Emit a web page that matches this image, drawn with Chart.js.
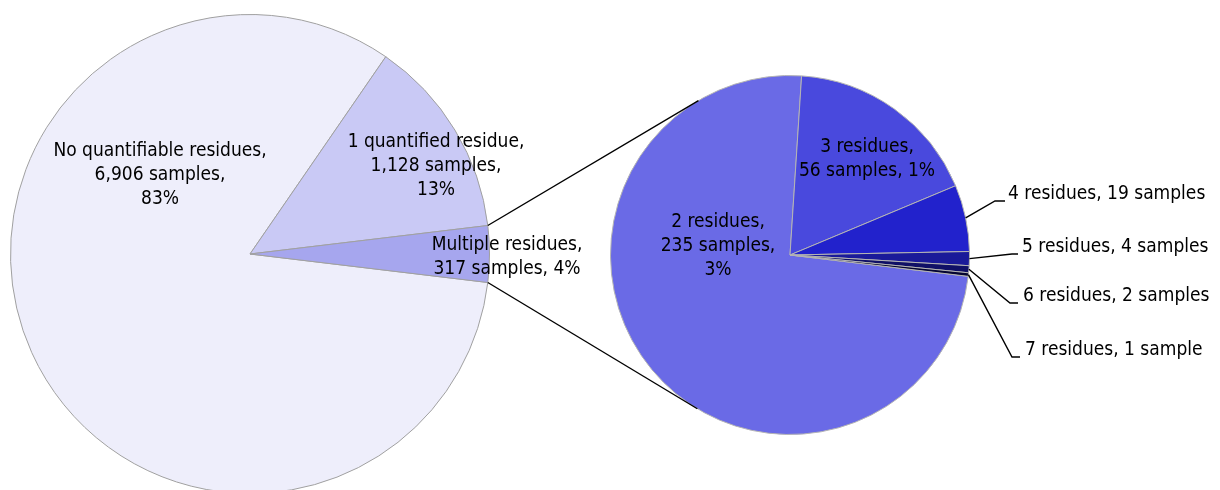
<!DOCTYPE html>
<html><head><meta charset="utf-8">
<script src="https://cdn.jsdelivr.net/npm/chart.js@4"></script>
<style>
html,body{margin:0;padding:0;background:#fff;overflow:hidden;width:1220px;height:490px;}
#wrap{position:relative;width:1220px;height:490px;overflow:hidden;}
canvas{position:absolute;left:0;top:0;}
</style></head><body>
<div id="wrap">
<canvas id="main" width="1220" height="510"></canvas>
<canvas id="sub" width="1220" height="490"></canvas>
</div>
<script>
// ---- data ----
const mainCategories = ["No quantifiable residues", "1 quantified residue", "Multiple residues"];
const mainValues = [6906, 1128, 317];
const mainPctLabels = ["83%", "13%", "4%"];
const mainColors = ["#EEEEFB", "#C9C9F5", "#A6A6EE"];

const subCategories = ["2 residues", "3 residues", "4 residues", "5 residues", "6 residues", "7 residues"];
const subValues = [235, 56, 19, 4, 2, 1];
const subPctLabels = ["3%", "1%", "", "", "", ""];
const subColors = ["#6A6AE6", "#4949DD", "#2222CC", "#1A1A99", "#101066", "#050533"];

const FONT_FAMILY = '"DejaVu Sans Condensed", "DejaVu Sans", sans-serif';
const FONT_SIZE = 19;
const LINE_H = 24;

function fmt(n){ return n.toLocaleString('en-US'); }
function sampleWord(n){ return n === 1 ? 'sample' : 'samples'; }

// label texts built from data
const mainLabelLines = [
  [mainCategories[0] + ',', fmt(mainValues[0]) + ' samples,', mainPctLabels[0]],
  [mainCategories[1] + ',', fmt(mainValues[1]) + ' samples,', mainPctLabels[1]],
  [mainCategories[2] + ',', fmt(mainValues[2]) + ' samples, ' + mainPctLabels[2]]
];
const subLabelLines = subCategories.map((c, i) => {
  if (i === 0) return [c + ',', fmt(subValues[i]) + ' samples,', subPctLabels[i]];
  if (i === 1) return [c + ',', fmt(subValues[i]) + ' samples, ' + subPctLabels[i]];
  return [c + ', ' + fmt(subValues[i]) + ' ' + sampleWord(subValues[i])];
});

const mainTotal = mainValues.reduce((a, b) => a + b, 0);
const rot = 90 + (mainValues[2] / mainTotal * 360) / 2;

// label layout (offsets relative to pie centre)
const mainLabelPos = [ {dx:-90, dy:-79}, {dx:186, dy:-88}, {dx:257, dy:3} ];
const subLabelPos = [
  {dx:-72, dy:-9, inside:true},
  {dx:77, dy:-96, inside:true},
  {ex:205, ey:-54, hx:215, tx:218},
  {ex:222, ey:-1, hx:228, tx:232},
  {ex:220, ey:48, hx:228, tx:233},
  {ex:222, ey:102, hx:230, tx:235}
];

const labelPlugin = {
  id: 'sliceLabels',
  afterDatasetsDraw(chart, args, opts) {
    const ctx = chart.ctx;
    const meta = chart.getDatasetMeta(0);
    const cx = meta.data[0].x, cy = meta.data[0].y;
    ctx.save();
    ctx.font = FONT_SIZE + 'px ' + FONT_FAMILY;
    ctx.fillStyle = '#000';
    ctx.textBaseline = 'middle';
    opts.lines.forEach((lines, i) => {
      const p = opts.pos[i];
      if (p.ex === undefined) {
        ctx.textAlign = 'center';
        const y0 = cy + p.dy - (lines.length - 1) * LINE_H / 2;
        lines.forEach((t, k) => ctx.fillText(t, cx + p.dx, y0 + k * LINE_H));
      } else {
        const arc = meta.data[i];
        const mid = (arc.startAngle + arc.endAngle) / 2;
        const sx = cx + arc.outerRadius * Math.cos(mid);
        const sy = cy + arc.outerRadius * Math.sin(mid);
        ctx.strokeStyle = '#000';
        ctx.lineWidth = 1.4;
        ctx.beginPath();
        ctx.moveTo(sx, sy);
        ctx.lineTo(cx + p.ex, cy + p.ey);
        ctx.lineTo(cx + p.hx, cy + p.ey);
        ctx.stroke();
        ctx.textAlign = 'left';
        ctx.fillText(lines[0], cx + p.tx, cy + p.ey - 7);
      }
    });
    ctx.restore();
  }
};

const mainChart = new Chart(document.getElementById('main'), {
  type: 'pie',
  data: { labels: mainCategories, datasets: [{ data: mainValues, backgroundColor: mainColors, borderColor: '#A0A0A0', borderWidth: 1 }] },
  options: {
    responsive: false, animation: false, rotation: rot,
    layout: { padding: { left: 10, top: 14, right: 730, bottom: 16 } },
    plugins: { legend: { display: false }, tooltip: { enabled: false },
      sliceLabels: { lines: mainLabelLines, pos: mainLabelPos } }
  },
  plugins: [labelPlugin]
});

const connectorPlugin = {
  id: 'connectors',
  afterDatasetsDraw(chart) {
    const ctx = chart.ctx;
    const subArc = chart.getDatasetMeta(0).data[0];
    const C = { x: subArc.x, y: subArc.y }, R = subArc.outerRadius;
    const mArc = mainChart.getDatasetMeta(0).data[2];
    const pts = [
      { a: mArc.startAngle, sign: 1 },
      { a: mArc.endAngle, sign: -1 }
    ];
    ctx.save();
    ctx.strokeStyle = '#000';
    ctx.lineWidth = 1.4;
    pts.forEach(p => {
      const P = { x: mArc.x + mArc.outerRadius * Math.cos(p.a), y: mArc.y + mArc.outerRadius * Math.sin(p.a) };
      const d = Math.hypot(P.x - C.x, P.y - C.y);
      const th = Math.atan2(P.y - C.y, P.x - C.x);
      const al = Math.acos(R / d);
      const t1 = th + al, t2 = th - al;
      const T1 = { x: C.x + R * Math.cos(t1), y: C.y + R * Math.sin(t1) };
      const T2 = { x: C.x + R * Math.cos(t2), y: C.y + R * Math.sin(t2) };
      const T = (p.sign === 1) ? (T1.y < T2.y ? T1 : T2) : (T1.y > T2.y ? T1 : T2);
      ctx.beginPath();
      ctx.moveTo(P.x, P.y);
      ctx.lineTo(T.x, T.y);
      ctx.stroke();
    });
    ctx.restore();
  }
};

const subChart = new Chart(document.getElementById('sub'), {
  type: 'pie',
  data: { labels: subCategories, datasets: [{ data: subValues, backgroundColor: subColors, borderColor: '#B4B4B4', borderWidth: 1 }] },
  options: {
    responsive: false, animation: false, rotation: rot,
    layout: { padding: { left: 610, top: 75, right: 250, bottom: 55 } },
    plugins: { legend: { display: false }, tooltip: { enabled: false },
      sliceLabels: { lines: subLabelLines, pos: subLabelPos } }
  },
  plugins: [labelPlugin, connectorPlugin]
});
</script>
</body></html>
